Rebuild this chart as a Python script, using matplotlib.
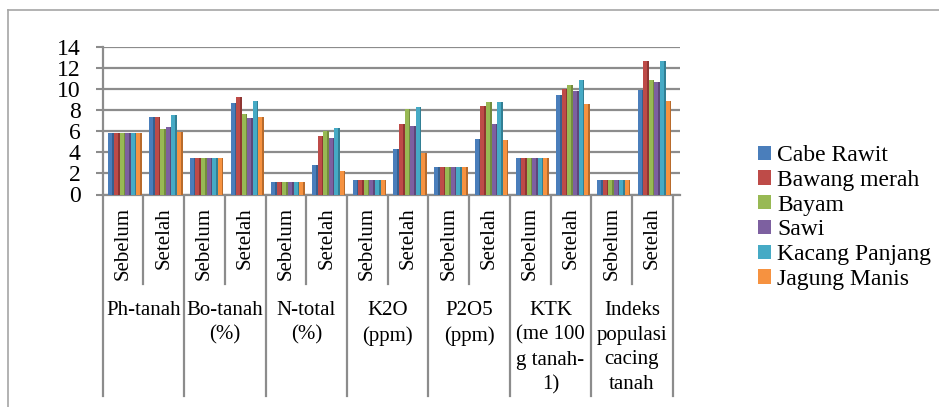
import numpy as np
import matplotlib
matplotlib.use("Agg")
import matplotlib.pyplot as plt
from matplotlib.lines import Line2D
from matplotlib.patches import Patch
import matplotlib.transforms as mtransforms

plt.rcParams['font.family'] = ['Liberation Serif', 'DejaVu Serif']

# soil parameters, each measured before (Sebelum) and after (Setelah)
groups = ["Ph-tanah", "Bo-tanah\n(%)", "N-total\n(%)", "K2O\n(ppm)", "P2O5\n(ppm)",
          "KTK\n(me 100\ng tanah-\n1)", "Indeks\npopulasi\ncacing\ntanah"]
phases = ["Sebelum", "Setelah"]

series_names = ["Cabe Rawit", "Bawang merah", "Bayam", "Sawi", "Kacang Panjang", "Jagung Manis"]
cabe_rawit     = [5.8, 7.4, 3.5, 8.7, 1.2, 2.8, 1.4, 4.3, 2.6, 5.3, 3.5, 9.4, 1.4, 9.9]
bawang_merah   = [5.8, 7.4, 3.5, 9.3, 1.2, 5.6, 1.4, 6.7, 2.6, 8.4, 3.5, 10.0, 1.4, 12.7]
bayam          = [5.8, 6.2, 3.5, 7.6, 1.2, 6.0, 1.4, 8.1, 2.6, 8.8, 3.5, 10.4, 1.4, 10.9]
sawi           = [5.8, 6.4, 3.5, 7.3, 1.2, 5.4, 1.4, 6.5, 2.6, 6.7, 3.5, 9.8, 1.4, 10.7]
kacang_panjang = [5.8, 7.5, 3.5, 8.9, 1.2, 6.3, 1.4, 8.3, 2.6, 8.8, 3.5, 10.9, 1.4, 12.7]
jagung_manis   = [5.8, 5.9, 3.5, 7.4, 1.2, 2.2, 1.4, 3.9, 2.6, 5.2, 3.5, 8.6, 1.4, 8.9]
all_series = [cabe_rawit, bawang_merah, bayam, sawi, kacang_panjang, jagung_manis]

colors = ["#4A7EBB", "#BE4B48", "#98B954", "#7D60A0", "#46AAC5", "#F69240"]
side_colors = ["#36608F", "#8F3532", "#738C3E", "#5D4778", "#327F94", "#B86B2C"]

W, H = 939, 407
def fx(px):
    return px / W
def fy(py):
    return 1 - py / H

fig = plt.figure(figsize=(W / 100, H / 100), dpi=100)

# outer frame (top and left edges visible)
fig.add_artist(Line2D([fx(8), fx(8)], [fy(10), 0], transform=fig.transFigure, color="#a6a6a6", lw=1.2))
fig.add_artist(Line2D([fx(8), 1], [fy(10), fy(10)], transform=fig.transFigure, color="#a6a6a6", lw=1.2))

slot = (672.7 - 102.7) / 14
ax = fig.add_axes([fx(102.7), fy(194.5), fx(680) - fx(102.7), fy(47) - fy(194.5)])
ax.set_xlim(-0.5, 13.5 + (680 - 672.7) / slot)
ax.set_ylim(0, 14)

n = len(all_series)
x = np.arange(14)
bw = 0.137
x0 = x + 0.05 - bw * (n - 1) / 2
for i, vals in enumerate(all_series):
    xi = x0 + i * bw
    ax.bar(xi, vals, width=bw, color=colors[i], zorder=3, linewidth=0)
    # darker side strip for a bit of depth
    ax.bar(xi + bw * 0.36, vals, width=bw * 0.28, color=side_colors[i], zorder=3, linewidth=0)

grid_c = "#8c8c8c"
ax.set_yticks(range(0, 15, 2))
ax.yaxis.grid(True, color=grid_c, lw=1.6, zorder=0)
ax.set_axisbelow(True)
ax.set_xticks([])
for s in ["top", "right"]:
    ax.spines[s].set_visible(False)
ax.spines["left"].set_color(grid_c)
ax.spines["left"].set_linewidth(1.6)
ax.spines["bottom"].set_color(grid_c)
ax.spines["bottom"].set_linewidth(1.6)
ax.tick_params(axis="y", direction="out", length=5, width=1.5, color=grid_c, pad=11, labelsize=17)

# category table under the axis
tr = mtransforms.blended_transform_factory(ax.transData, fig.transFigure)
for k in range(15):
    xb = k - 0.5
    bottom = 396 if k % 2 == 0 else 284
    fig.add_artist(Line2D([xb, xb], [fy(196), fy(bottom)], transform=tr, color=grid_c, lw=1.6))

for k in range(14):
    fig.text(k, fy(207), phases[k % 2], transform=tr, rotation=90, ha="center", va="top", fontsize=15)

for g, label in enumerate(groups):
    fig.text(2 * g + 0.5, fy(301), label, transform=tr, ha="center", va="top", fontsize=15,
             linespacing=1.4, multialignment="center")

handles = [Patch(facecolor=c, edgecolor="none") for c in colors]
fig.legend(handles, series_names, loc="center left", bbox_to_anchor=(fx(758), fy(217.5)),
           frameon=False, fontsize=17, handlelength=0.55, handleheight=0.55, handletextpad=0.25,
           labelspacing=0.16, borderpad=0, borderaxespad=0)

fig.savefig("out.png", dpi=100)
